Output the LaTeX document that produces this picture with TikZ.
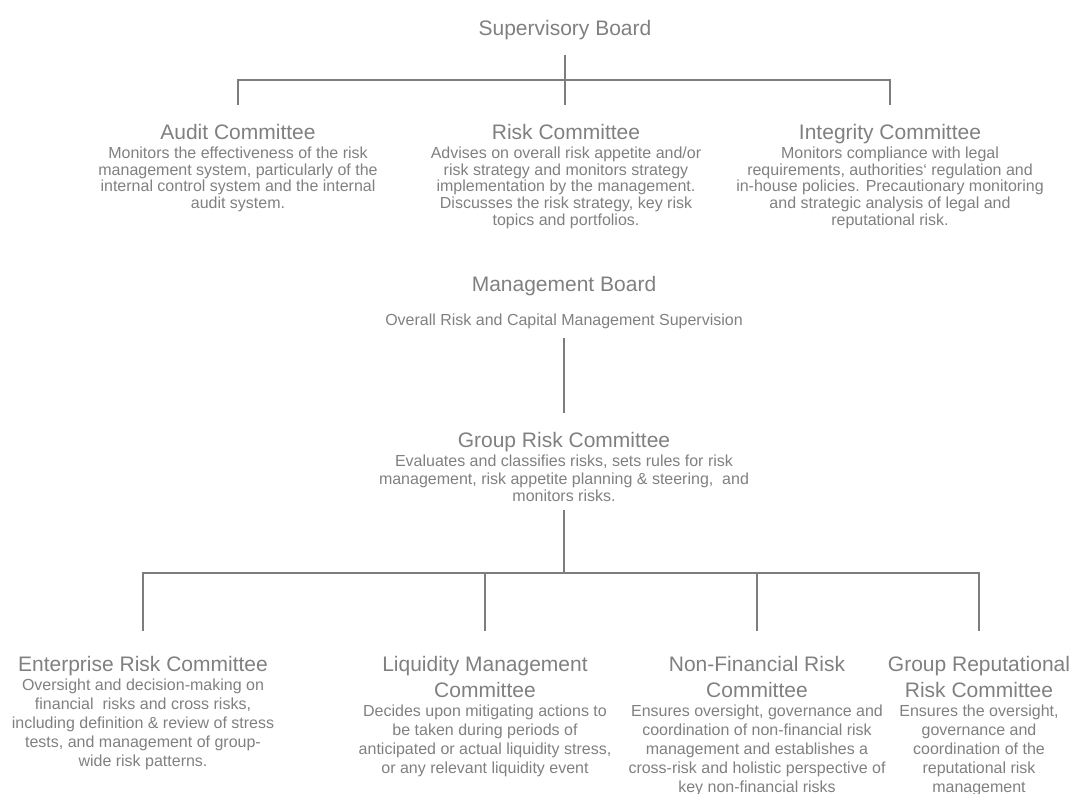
\documentclass[tikz,border=0pt]{standalone}
\usepackage{fontspec}
\setmainfont{Liberation Sans}
\definecolor{ink}{RGB}{128,128,128}
\definecolor{wire}{RGB}{125,125,125}
\begin{document}
% Multi-line nodes are placed by the baseline of their last line.
\begin{tikzpicture}[x=1pt,y=-1pt,
  title/.style={font=\fontsize{21}{26}\selectfont, text=ink, align=center, inner sep=0pt, anchor=base},
  body/.style={font=\fontsize{16}{16.7}\selectfont, text=ink, align=center, inner sep=0pt, anchor=base},
  bodymid/.style={body, font=\fontsize{16}{17.5}\selectfont},
  bodylow/.style={body, font=\fontsize{16}{19}\selectfont},
  link/.style={draw=wire, line width=1.2pt}]
\useasboundingbox (0,0) rectangle (1074,794);

% --- Supervisory Board and its committees ---
\node[title] (sup) at (565,35.5) {Supervisory Board};

\node[title] (audit) at (238,139.5) {Audit Committee};
\node[body] (auditText) at (238,208.6) {Monitors the effectiveness of the risk\\management system, particularly of the\\internal control system and the internal\\audit system.};

\node[title] (risk) at (566,139.5) {Risk Committee};
\node[body] (riskText) at (566,225.3) {Advises on overall risk appetite and/or\\risk strategy and monitors strategy\\implementation by the management.\\Discusses the risk strategy, key risk\\topics and portfolios.};

\node[title] (integ) at (890,139.5) {Integrity Committee};
\node[body] (integText) at (890,225.3) {Monitors compliance with legal\\requirements, authorities‘ regulation and\\in-house policies. Precautionary monitoring\\and strategic analysis of legal and\\reputational risk.};

\coordinate (supStem) at (565,55);
\coordinate (supBus) at (565,80);
\coordinate (auditTop) at (238,105);
\coordinate (riskTop) at (565,105);
\coordinate (integTop) at (890,105);
\draw[link] (supStem) -- (riskTop);
\draw[link] (auditTop) |- (supBus) -| (integTop);

% --- Management Board ---
\node[title] (mb) at (564,291.5) {Management Board};
\node[body] (mbText) at (564,325.5) {Overall Risk and Capital Management Supervision};

\coordinate (mbStem) at (564,338);
\coordinate (grcTop) at (564,413);
\draw[link] (mbStem) -- (grcTop);

% --- Group Risk Committee ---
\node[title] (grc) at (564,447.5) {Group Risk Committee};
\node[bodymid] (grcText) at (564,501.5) {Evaluates and classifies risks, sets rules for risk\\management, risk appetite planning \& steering,~ and\\monitors risks.};

% --- Sub-committees ---
\node[title] (erc) at (143,671.5) {Enterprise Risk Committee};
\node[bodylow] (ercText) at (143,766.5) {Oversight and decision-making on\\financial~ risks and cross risks,\\including definition \& review of stress\\tests, and management of group-\\wide risk patterns.};

\node[title] (lmc) at (485,697.5) {Liquidity Management\\Committee};
\node[bodylow] (lmcText) at (485,773.5) {Decides upon mitigating actions to\\be taken during periods of\\anticipated or actual liquidity stress,\\or any relevant liquidity event};

\node[title] (nfrc) at (757,697.5) {Non-Financial Risk\\Committee};
\node[bodylow] (nfrcText) at (757,792) {Ensures oversight, governance and\\coordination of non-financial risk\\management and establishes a\\cross-risk and holistic perspective of\\key non-financial risks};

\node[title] (grrc) at (979,697.5) {Group Reputational\\Risk Committee};
\node[bodylow] (grrcText) at (979,792) {Ensures the oversight,\\governance and\\coordination of the\\reputational risk\\management};

\coordinate (grcStem) at (564,510);
\coordinate (grcBus) at (564,573);
\coordinate (ercTop) at (143,631);
\coordinate (lmcTop) at (485,631);
\coordinate (nfrcTop) at (757,631);
\coordinate (grrcTop) at (979,631);
\draw[link] (grcStem) -- (grcBus);
\draw[link] (ercTop) |- (grcBus) -| (grrcTop);
\draw[link] (lmcTop) -- (lmcTop |- grcBus);
\draw[link] (nfrcTop) -- (nfrcTop |- grcBus);
\end{tikzpicture}
\end{document}
